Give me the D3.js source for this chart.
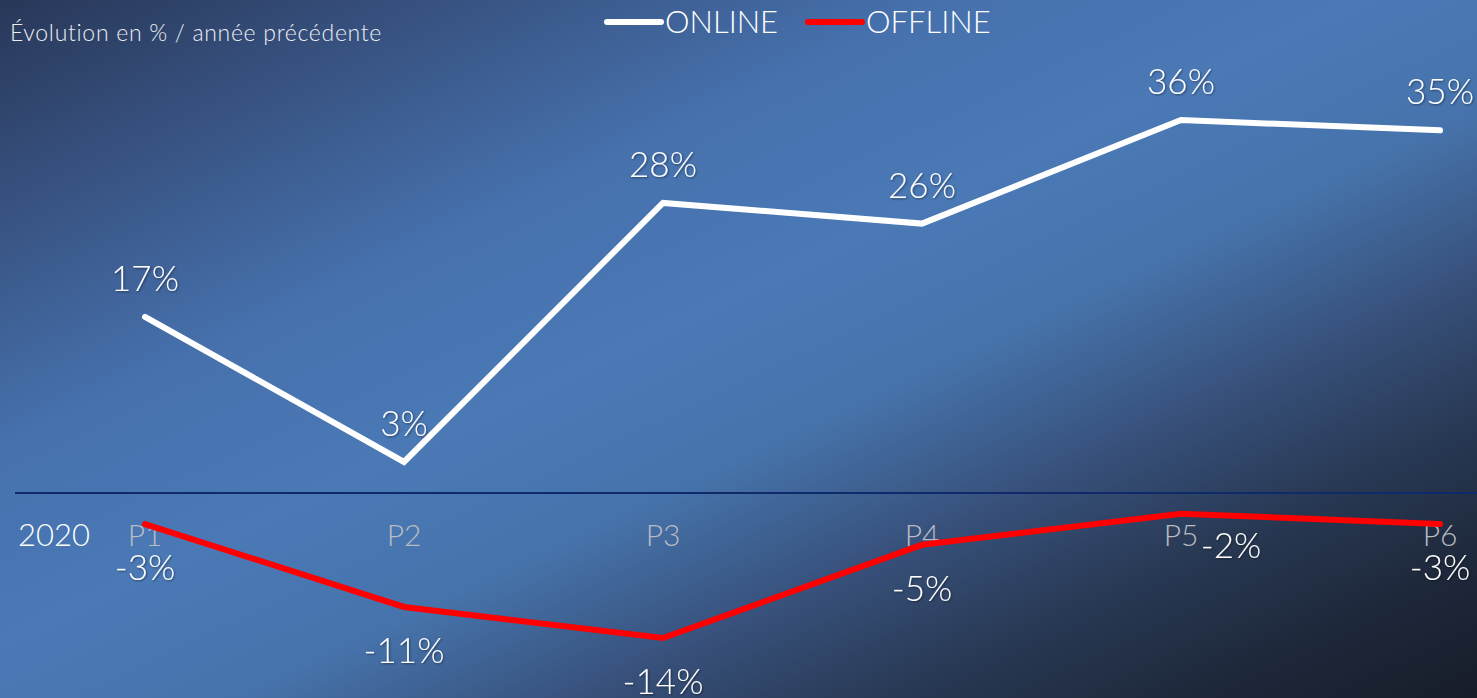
<!DOCTYPE html>
<html>
<head>
<meta charset="utf-8">
<script src="https://cdn.jsdelivr.net/npm/d3@7"></script>
<style>
  html, body { margin: 0; padding: 0; background: #1a2130; }
  svg { display: block; }
  text { font-family: "Century Gothic", "URW Gothic", "Lato", "Open Sans", sans-serif; font-weight: 300; }
</style>
</head>
<body>
<svg id="chart" width="1477" height="698"></svg>
<script>
const categories = ["P1", "P2", "P3", "P4", "P5", "P6"];
const yearLabel = "2020";
const onlineValues = [17, 3, 28, 26, 36, 35];
const offlineValues = [-3, -11, -14, -5, -2, -3];
const seriesNames = ["ONLINE", "OFFLINE"];
const titleText = "Évolution en % / année précédente";

const W = 1477, H = 698;
const svg = d3.select("#chart");
const defs = svg.append("defs");

const grad = defs.append("linearGradient").attr("id", "bg")
  .attr("x1", 0).attr("y1", 0).attr("x2", 1).attr("y2", 1);
[[0, "#283758"], [0.18, "#3a5788"], [0.32, "#4671ad"], [0.46, "#4a79b6"], [0.58, "#4673ab"],
 [0.7, "#37507a"], [0.8, "#283954"], [0.9, "#1e283b"], [1, "#171d29"]]
  .forEach(([o, c]) => grad.append("stop").attr("offset", o).attr("stop-color", c));

const shadow = defs.append("filter").attr("id", "shadow")
  .attr("x", "-20%").attr("y", "-20%").attr("width", "140%").attr("height", "140%");
shadow.append("feDropShadow").attr("dx", 1).attr("dy", 1).attr("stdDeviation", 1.2)
  .attr("flood-color", "#000").attr("flood-opacity", 0.45);

svg.append("rect").attr("width", W).attr("height", H).attr("fill", "url(#bg)");

const x = d3.scalePoint().domain(categories).range([145, 1440]);
const y = d3.scaleLinear().domain([0, 36]).range([493, 120]);

// zero axis line
svg.append("line")
  .attr("x1", 15).attr("x2", W).attr("y1", y(0)).attr("y2", y(0))
  .attr("stroke", "#0e2a6a").attr("stroke-width", 2);

// category labels
svg.append("g").selectAll("text").data(categories).join("text")
  .attr("x", d => x(d)).attr("y", y(0) + 53)
  .attr("text-anchor", "middle")
  .attr("font-size", 30).attr("fill", "#b9bcc2")
  .text(d => d);

svg.append("text").attr("x", 18).attr("y", y(0) + 53)
  .attr("font-size", 31).attr("fill", "#ffffff").text(yearLabel);

const line = d3.line().x((d, i) => x(categories[i])).y(d => y(d));

svg.append("path").datum(onlineValues)
  .attr("d", line).attr("fill", "none").attr("stroke", "#ffffff")
  .attr("stroke-width", 6).attr("stroke-linecap", "round").attr("stroke-linejoin", "miter");

svg.append("path").datum(offlineValues)
  .attr("d", line).attr("fill", "none").attr("stroke", "#ff0000")
  .attr("stroke-width", 6).attr("stroke-linecap", "round").attr("stroke-linejoin", "miter");

// data labels
const labelFont = 35;
svg.append("g").selectAll("text").data(onlineValues).join("text")
  .attr("x", (d, i) => x(categories[i]))
  .attr("y", d => y(d) - 26)
  .attr("text-anchor", "middle")
  .attr("font-size", labelFont).attr("fill", "#ffffff")
  .attr("filter", "url(#shadow)")
  .text(d => d + "%");

const offNudge = [[0, 0], [0, 0], [0, 0], [0, 0], [50, -12], [0, 0]];
svg.append("g").selectAll("text").data(offlineValues).join("text")
  .attr("x", (d, i) => x(categories[i]) + offNudge[i][0])
  .attr("y", (d, i) => y(d) + 56 + offNudge[i][1])
  .attr("text-anchor", "middle")
  .attr("font-size", labelFont).attr("fill", "#ffffff")
  .attr("filter", "url(#shadow)")
  .text(d => d + "%");

// title
svg.append("text").attr("x", 10).attr("y", 41)
  .attr("font-size", 23).attr("letter-spacing", 0.7).attr("fill", "#eceef2").text(titleText);

// legend
const legend = svg.append("g");
const legendItems = [
  { name: seriesNames[0], color: "#ffffff", x0: 607 },
  { name: seriesNames[1], color: "#ff0000", x0: 808 }
];
legendItems.forEach(it => {
  legend.append("line").attr("x1", it.x0).attr("x2", it.x0 + 54)
    .attr("y1", 22).attr("y2", 22)
    .attr("stroke", it.color).attr("stroke-width", 6).attr("stroke-linecap", "round");
  legend.append("text").attr("x", it.x0 + 58).attr("y", 33)
    .attr("font-size", 31).attr("fill", "#ffffff").text(it.name);
});
</script>
</body>
</html>
